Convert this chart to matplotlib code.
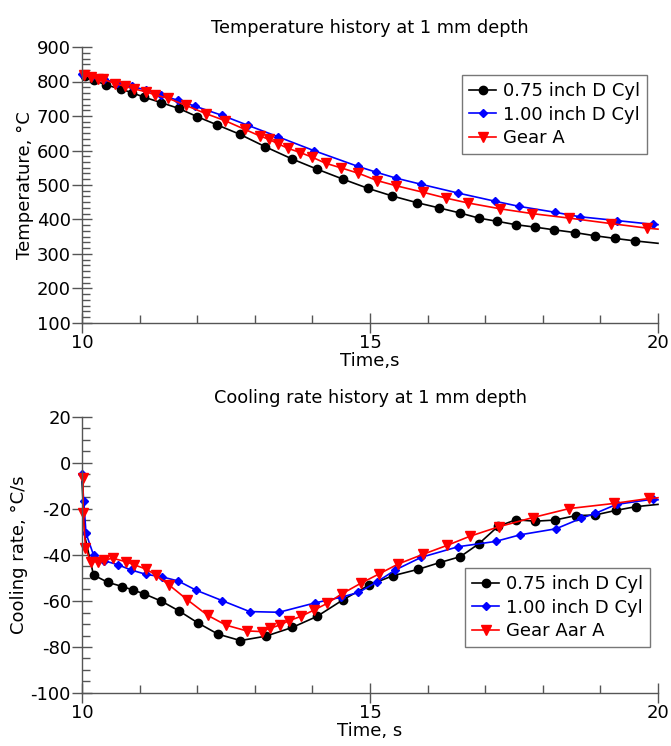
import matplotlib
matplotlib.use("Agg")
import matplotlib.pyplot as plt
from matplotlib.ticker import MultipleLocator, AutoMinorLocator

# ---- Top panel: temperature history ----
t_black = [10.05, 10.2, 10.42, 10.67, 10.86, 11.07, 11.37, 11.68, 12.0, 12.35, 12.74, 13.18, 13.64,
           14.08, 14.53, 14.97, 15.39, 15.81, 16.19, 16.56, 16.89, 17.2, 17.53, 17.86, 18.2, 18.56,
           18.9, 19.26, 19.6, 20.0]
T_black = [815, 804, 790, 778, 768, 755, 739, 722, 698, 674, 647, 611, 576,
           546, 517, 490, 468, 449, 434, 419, 404, 395, 385, 378, 370, 362,
           353, 345, 338, 331]

t_blue = [10.0, 10.18, 10.39, 10.6, 10.87, 11.11, 11.37, 11.66, 11.97, 12.43, 12.88, 13.4, 14.02,
          14.79, 15.11, 15.45, 15.89, 16.52, 17.17, 17.59, 18.21, 18.64, 19.28, 19.91, 20.0]
T_blue = [823, 815, 806, 797, 786, 775, 760, 746, 728, 702, 673, 640, 600,
          554, 537, 520, 502, 477, 453, 438, 421, 408, 397, 386, 385]

t_red = [10.04, 10.15, 10.28, 10.37, 10.58, 10.74, 10.9, 11.11, 11.26, 11.5, 11.8, 12.15, 12.49,
         12.83, 13.09, 13.25, 13.41, 13.58, 13.79, 13.99, 14.23, 14.49, 14.8, 15.12, 15.45, 15.92,
         16.32, 16.7, 17.26, 17.82, 18.46, 19.19, 19.81, 20.0]
T_red = [818, 813, 808, 806, 794, 786, 779, 770, 762, 751, 731, 707, 686,
         661, 642, 632, 619, 606, 594, 581, 563, 550, 534, 513, 498, 479,
         462, 448, 431, 417, 404, 388, 375, 372]

# ---- Bottom panel: cooling rate history ----
c_t_black = [10.0, 10.05, 10.2, 10.45, 10.7, 10.88, 11.08, 11.38, 11.69, 12.01, 12.36, 12.75, 13.19,
             13.65, 14.08, 14.53, 14.99, 15.40, 15.84, 16.21, 16.57, 16.89, 17.22, 17.53, 17.87,
             18.21, 18.57, 18.91, 19.27, 19.61, 20.0]
c_black = [-8, -32, -48.7, -51.9, -53.7, -55.2, -56.9, -60.1, -64.4, -69.5, -74.4, -77.2, -75.3,
           -71.5, -66.7, -59.5, -53.0, -49.0, -46.2, -43.3, -40.7, -35.1, -27.6, -24.7, -25.3,
           -24.8, -22.9, -22.6, -20.6, -19.0, -18.0]

c_t_blue = [10.0, 10.03, 10.07, 10.2, 10.39, 10.63, 10.85, 11.11, 11.39, 11.67, 11.98, 12.43, 12.91,
            13.42, 14.05, 14.49, 14.8, 15.12, 15.44, 15.89, 16.53, 17.18, 17.61, 18.23, 18.66,
            18.91, 19.28, 19.92, 20.0]
c_blue = [-5.0, -16.6, -30.6, -40.0, -42.5, -44.3, -46.5, -48.4, -49.5, -51.3, -55.3, -59.8, -64.6,
          -64.9, -60.8, -58.4, -56.3, -51.7, -46.5, -41.0, -36.4, -34.1, -31.2, -28.6, -24.1,
          -21.9, -18.0, -15.7, -16.0]

c_t_red = [10.02, 10.02, 10.06, 10.15, 10.28, 10.39, 10.53, 10.76, 10.91, 11.11, 11.28, 11.51, 11.83,
           12.18, 12.5, 12.86, 13.12, 13.27, 13.43, 13.6, 13.8, 14.03, 14.26, 14.51, 14.84, 15.16,
           15.49, 15.92, 16.34, 16.74, 17.24, 17.83, 18.46, 19.23, 19.85, 20.0]
c_red = [-6.5, -21.6, -36.8, -42.9, -42.9, -42.2, -41.4, -42.9, -44.3, -46.1, -48.7, -53.0, -59.5,
         -66.2, -70.5, -73.0, -73.3, -71.8, -70.5, -68.5, -66.7, -63.9, -61.0, -56.9, -52.3, -48.2,
         -43.9, -39.7, -35.8, -31.8, -27.7, -23.7, -19.8, -17.6, -15.4, -15.1]

labels_top = ["0.75 inch D Cyl", "1.00 inch D Cyl", "Gear A"]
labels_bot = ["0.75 inch D Cyl", "1.00 inch D Cyl", "Gear Aar A"]

plt.rcParams['font.family'] = ['DejaVu Sans']
plt.rcParams['axes.unicode_minus'] = False

fig = plt.figure(figsize=(6.71, 7.46), dpi=100)
W, H = 671, 746

def axes_px(l, t, r, b):
    return fig.add_axes([l / W, 1 - b / H, (r - l) / W, (b - t) / H])

ax1 = axes_px(82, 47, 658, 323)
ax2 = axes_px(82, 417, 658, 693)

def style(ax, ymaj, yminor_n):
    for s in ['top', 'right']:
        ax.spines[s].set_visible(False)
    for s in ['left', 'bottom']:
        ax.spines[s].set_color('#555555')
        ax.spines[s].set_linewidth(1.0)
    ax.set_xlim(10, 20)
    ax.xaxis.set_major_locator(MultipleLocator(5))
    ax.xaxis.set_minor_locator(MultipleLocator(1))
    ax.yaxis.set_major_locator(MultipleLocator(ymaj))
    ax.yaxis.set_minor_locator(AutoMinorLocator(yminor_n))
    ax.tick_params(which='major', direction='inout', length=14, width=1.0, color='#555555',
                   labelsize=13, pad=1)
    ax.tick_params(which='minor', direction='in', length=6, width=1.0, color='#555555')

lkw = dict(lw=1.2, clip_on=False)
ms_c, ms_d, ms_v = 6, 4.5, 7

def add_legend(ax, x_px, y_px, top_px):
    leg = ax.legend(loc='upper left',
                    bbox_to_anchor=((x_px - 82) / 576, 1 - (y_px - top_px) / 276),
                    fontsize=13, frameon=True, fancybox=False, edgecolor='#555555',
                    handlelength=1.5, handletextpad=0.35, borderpad=0.4, labelspacing=0.3,
                    borderaxespad=0)
    leg.get_frame().set_linewidth(1.0)
    return leg

ax1.plot(t_black, T_black, color='black', marker='o', ms=ms_c, markevery=slice(0, len(t_black) - 1),
         label=labels_top[0], **lkw)
ax1.plot(t_blue, T_blue, color='#0000ff', marker='D', ms=ms_d, markevery=slice(0, len(t_blue) - 1),
         label=labels_top[1], **lkw)
ax1.plot(t_red, T_red, color='#ff0000', marker='v', ms=ms_v, markevery=slice(0, len(t_red) - 1),
         label=labels_top[2], **lkw)
ax1.set_ylim(100, 900)
style(ax1, 100, 6)
ax1.set_title("Temperature history at 1 mm depth", fontsize=12.8, pad=10)
ax1.set_xlabel("Time,s", fontsize=13, labelpad=0)
ax1.set_ylabel("Temperature, °C", fontsize=13, labelpad=2)
add_legend(ax1, 462, 75, 47)

ax2.plot(c_t_black, c_black, color='black', marker='o', ms=ms_c, markevery=slice(2, len(c_t_black) - 1),
         label=labels_bot[0], **lkw)
ax2.plot(c_t_blue, c_blue, color='#0000ff', marker='D', ms=ms_d, markevery=slice(0, len(c_t_blue) - 1),
         label=labels_bot[1], **lkw)
ax2.plot(c_t_red, c_red, color='#ff0000', marker='v', ms=ms_v, markevery=slice(0, len(c_t_red) - 1),
         label=labels_bot[2], **lkw)
ax2.set_ylim(-100, 20)
style(ax2, 20, 4)
ax2.set_title("Cooling rate history at 1 mm depth", fontsize=12.8, pad=10)
ax2.set_xlabel("Time, s", fontsize=13, labelpad=0)
ax2.set_ylabel("Cooling rate, °C/s", fontsize=13, labelpad=2)
add_legend(ax2, 465, 568, 417)

fig.savefig("out.png", dpi=100)
